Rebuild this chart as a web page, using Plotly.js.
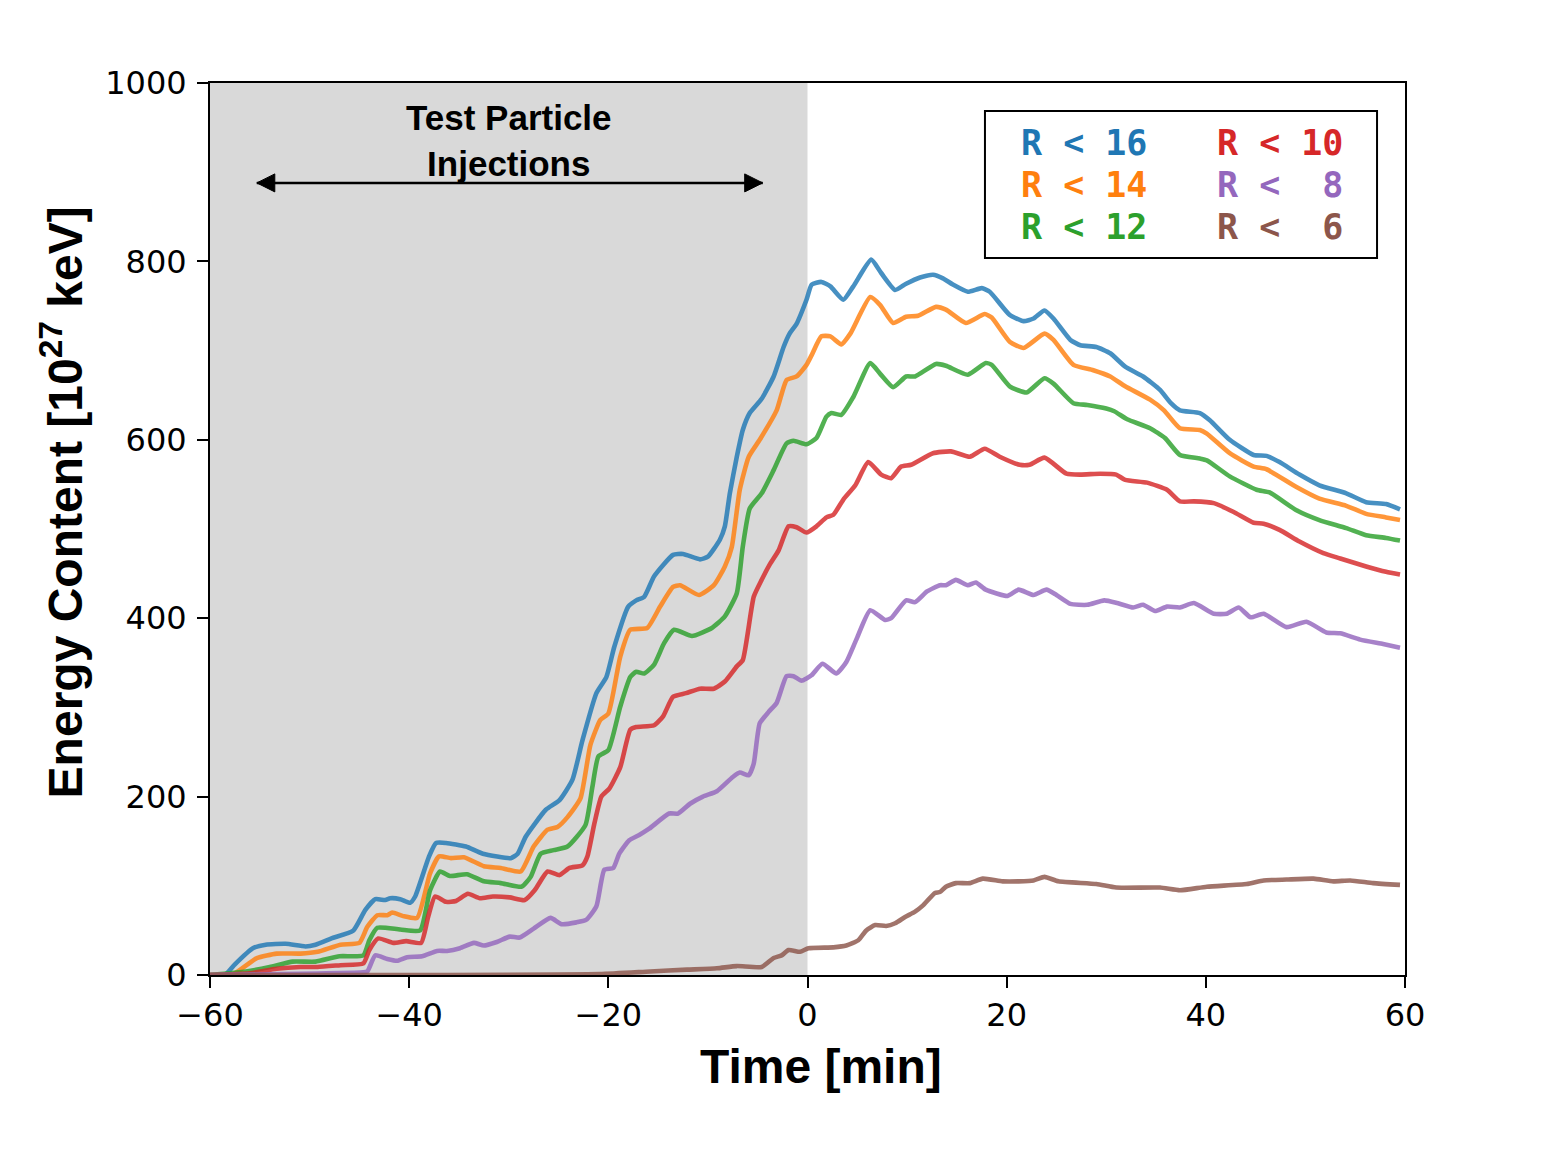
<!DOCTYPE html>
<html>
<head>
<meta charset="utf-8">
<script src="https://cdn.plot.ly/plotly-3.0.1.min.js"></script>
<style>html,body{margin:0;padding:0;background:#fff;}</style>
</head>
<body>
<div id="chart" style="width:1550px;height:1160px;"></div>
<script>
// ---- data ----
const seriesNames = ["R < 16", "R < 14", "R < 12", "R < 10", "R <  8", "R <  6"];
const seriesColors = ["#1f77b4", "#ff7f0e", "#2ca02c", "#d62728", "#9467bd", "#8c564b"];

const tR16 = [-60,-58.5,-57.5,-55.7,-54.4,-52.4,-50.4,-49.4,-47.8,-45.6,-44.4,-43.4,-42.4,-41.9,-40.9,-39.9,-39.4,-38.0,-37.3,-36.3,-34.3,-32.6,-29.8,-29.1,-28.3,-26.3,-24.9,-23.6,-22.6,-21.2,-20.2,-19.4,-18.0,-17.2,-16.4,-15.4,-13.5,-12.5,-10.8,-10.0,-8.8,-8.3,-7.8,-7.1,-6.5,-5.8,-4.6,-3.4,-2.4,-1.8,-1.1,-0.1,0.42,1.4,2.3,3.6,4.6,6.4,7.4,8.8,9.9,11.3,12.6,13.6,14.6,16.1,17.5,18.3,20.3,21.7,22.7,23.8,24.7,26.4,27.4,29.0,30.4,31.9,33.7,35.4,36.5,37.4,39.4,40.4,42.4,44.8,46.1,47.4,49.4,51.4,54.1,56.1,58.1,59.5];
const vR16 = [0,0,12,30,34,35,32,34,41,50,73,85,84,86,85,81,88,133,148,148,144,136,131,136,155,185,196,219,263,316,334,368,413,420,424,447,471,472,466,469,488,503,540,581,611,630,646,671,704,719,730,757,774,777,772,757,772,802,787,768,775,782,785,781,774,766,770,766,740,733,736,745,736,712,706,704,697,682,671,656,641,633,630,622,600,583,582,575,561,549,540,530,528,522];

const tR14 = [-60,-57.8,-55.3,-53.3,-50.9,-49.2,-46.9,-45.0,-44.2,-43.2,-42.2,-41.7,-40.6,-39.2,-37.9,-37.0,-35.8,-34.5,-32.5,-30.8,-28.8,-27.5,-26.1,-25.1,-24.1,-22.8,-21.8,-20.8,-20.0,-18.8,-17.8,-16.1,-14.8,-13.5,-12.8,-10.9,-9.4,-8.3,-7.6,-6.8,-5.9,-4.8,-3.1,-2.1,-1.1,-0.1,0.42,1.4,2.3,3.4,4.3,6.3,7.3,8.6,9.9,11.1,12.9,13.9,15.9,17.8,18.5,20.3,21.7,23.8,24.7,26.7,28.7,30.4,31.9,34.4,35.8,37.4,39.4,40.1,42.4,44.8,46.1,49.1,51.4,54.1,56.1,58.1,59.5];
const vR14 = [0,0,19,24,24,26,34,36,54,67,67,70,66,64,114,133,131,132,122,120,116,144,163,166,177,198,258,286,293,357,387,389,413,435,437,426,437,458,480,544,581,600,633,667,671,684,695,716,716,707,719,760,751,731,738,739,749,746,731,741,737,710,703,719,712,684,678,671,660,645,633,613,611,607,585,570,567,547,534,526,517,513,510];

const tR12 = [-60,-56.4,-54.0,-51.7,-49.4,-47.0,-44.6,-44.0,-43.2,-40.9,-38.9,-37.9,-36.9,-35.9,-34.2,-32.5,-30.8,-28.7,-27.8,-26.8,-25.5,-24.1,-22.3,-21.6,-21.0,-20.0,-18.8,-17.8,-17.2,-16.4,-15.4,-14.4,-13.4,-11.6,-9.6,-8.3,-7.1,-6.5,-5.8,-4.6,-3.4,-2.1,-1.4,-0.1,0.9,1.9,2.4,3.4,4.6,6.3,7.3,8.6,9.9,10.8,12.9,13.9,16.1,17.9,18.5,20.3,22.0,23.8,24.7,26.7,28.1,30.0,30.8,32.1,34.4,35.9,37.4,39.4,40.1,42.4,45.1,46.4,49.1,51.4,54.1,56.1,58.1,59.5];
const vR12 = [0,4,9,15,15,21,22,39,53,51,50,95,116,111,113,105,103,99,110,136,140,144,168,211,245,252,301,334,340,338,348,372,387,380,389,402,428,480,523,540,566,596,599,595,602,626,630,628,648,686,674,659,671,671,685,683,673,686,684,660,653,669,663,641,639,635,632,623,613,602,583,579,577,559,544,541,521,510,501,493,490,487];

const tR10 = [-60,-56,-53.3,-50.9,-49.2,-46.9,-44.6,-44.0,-43.1,-41.6,-40.3,-38.8,-38.1,-37.4,-36.3,-35.3,-34.1,-32.9,-31.6,-29.9,-28.4,-27.4,-26.1,-24.9,-23.9,-22.6,-22.1,-21.4,-20.7,-19.9,-18.8,-17.8,-17.2,-15.4,-14.5,-13.5,-12.2,-10.8,-9.4,-8.3,-7.1,-6.5,-5.4,-4.6,-3.8,-2.9,-1.9,-1.1,-0.1,0.9,1.9,2.6,3.6,4.8,6.1,7.4,8.4,9.4,10.4,12.6,14.4,16.3,17.8,19.3,21.3,22.3,23.8,26.0,27.4,29.4,31.0,31.9,34.1,36.1,37.4,38.8,40.8,42.8,44.8,45.8,47.4,49.4,51.8,53.5,56.1,58.1,59.5];
const vR10 = [0,2,7,9,9,11,13,28,41,36,38,36,65,88,82,83,91,86,88,87,84,95,116,112,120,123,133,170,200,209,233,275,278,280,290,312,316,321,321,329,346,353,424,443,460,476,503,502,496,503,513,516,533,549,575,561,557,570,572,585,587,581,590,581,572,572,580,562,561,562,561,555,552,544,531,531,529,519,507,506,499,486,473,467,458,452,449];

const tR8 = [-60,-44.6,-44.2,-43.4,-42.2,-41.2,-40.2,-38.7,-37.2,-36.2,-34.9,-33.5,-32.5,-31.2,-29.9,-28.9,-27.5,-25.8,-24.7,-23.2,-22.2,-21.2,-20.4,-19.5,-18.9,-17.9,-16.9,-15.9,-13.9,-13.0,-11.8,-10.5,-9.1,-7.5,-6.8,-5.9,-5.4,-4.8,-3.9,-3.1,-2.1,-1.4,-0.6,0.4,1.5,2.9,3.9,4.9,6.3,7.8,8.4,9.9,10.8,12.0,13.3,13.9,14.9,16.1,16.9,17.9,20.1,21.2,22.7,24.0,25.0,26.4,28.1,29.8,31.1,32.7,33.7,34.9,36.1,37.4,38.8,40.8,42.1,43.3,44.5,45.8,48.1,50.1,52.1,53.5,55.5,57.8,59.5];
const vR8 = [0,3,4,22,18,16,20,21,27,27,30,36,33,37,43,42,52,64,57,59,62,77,118,120,136,151,157,164,181,181,192,200,206,222,227,224,237,282,295,305,335,335,330,336,349,338,351,376,409,398,400,420,418,430,437,437,443,437,440,432,425,432,426,432,426,416,415,420,417,412,415,408,413,412,417,405,405,412,401,405,390,396,384,383,376,371,367];

const tR6 = [-60,-20.9,-15.8,-12.1,-9.1,-7.1,-4.6,-3.4,-2.6,-1.9,-0.75,0.1,2.6,3.9,5.1,5.9,6.8,7.9,8.8,9.8,10.8,11.6,12.8,13.3,13.9,14.9,16.3,17.6,19.6,21.2,22.7,23.8,25.2,29.0,31.0,35.4,37.4,40.1,44.1,45.8,48.1,50.8,52.8,54.5,56.8,59.5];
const vR6 = [0,1,4,6,7.5,10,9,19,22,28,26,30,31,33,39,50,56,55,58,65,71,78,92,93,99,103,103,108,105,105,106,110,105,102,98,98,95,99,102,106,107,108,105,106,103,101];

const xTicks = [-60, -40, -20, 0, 20, 40, 60];
const yTicks = [0, 200, 400, 600, 800, 1000];
const injectionWindow = [-60, 0];
const arrowSpan = [-55.3, -4.5];
const arrowLevel = 888;

// ---- traces ----
const times = [tR16, tR14, tR12, tR10, tR8, tR6];
const values = [vR16, vR14, vR12, vR10, vR8, vR6];
const traces = times.map((t, i) => ({
  x: t, y: values[i], type: 'scatter', mode: 'lines',
  name: seriesNames[i],
  line: {color: seriesColors[i], width: 4.6, shape: 'spline', smoothing: 0.5},
  opacity: 0.82,
  showlegend: false,
  hoverinfo: 'x+y+name'
}));

// ---- legend text (coloured labels, no line samples) ----
const legendCols = [0.677, 0.841];
const legendRows = [0.933, 0.886, 0.839];
const legendAnn = seriesNames.map((n, i) => ({
  xref: 'paper', yref: 'paper',
  x: legendCols[Math.floor(i / 3)], y: legendRows[i % 3],
  xanchor: 'left', yanchor: 'middle',
  text: '<b>' + n.replace(/ /g, '\u00a0') + '</b>',
  showarrow: false,
  font: {family: 'DejaVu Sans Mono', size: 35, color: seriesColors[i]}
}));

// double-headed arrow: a line plus two pixel-sized triangular heads
const headLen = 18, headHalf = 9;
const arrowShapes = [
  {type: 'line', xref: 'x', yref: 'y', x0: arrowSpan[0], x1: arrowSpan[1], y0: arrowLevel, y1: arrowLevel,
   line: {color: '#000', width: 2.5}, layer: 'above'},
  {type: 'path', xref: 'x', yref: 'y', xsizemode: 'pixel', ysizemode: 'pixel',
   xanchor: arrowSpan[0], yanchor: arrowLevel,
   path: `M0,0 L${headLen},${headHalf} L${headLen},${-headHalf} Z`,
   fillcolor: '#000', line: {color: '#000', width: 1}, layer: 'above'},
  {type: 'path', xref: 'x', yref: 'y', xsizemode: 'pixel', ysizemode: 'pixel',
   xanchor: arrowSpan[1], yanchor: arrowLevel,
   path: `M0,0 L${-headLen},${headHalf} L${-headLen},${-headHalf} Z`,
   fillcolor: '#000', line: {color: '#000', width: 1}, layer: 'above'}
];

const layout = {
  width: 1550, height: 1160,
  margin: {l: 210, r: 145, t: 83, b: 185},
  paper_bgcolor: '#ffffff', plot_bgcolor: '#ffffff',
  showlegend: false,
  xaxis: {
    range: [-60, 60], tickvals: xTicks, ticktext: xTicks.map(v => v < 0 ? '\u2212' + Math.abs(v) : String(v)),
    ticks: 'outside', ticklen: 11, tickwidth: 2, tickcolor: '#000',
    showline: true, linewidth: 2, linecolor: '#000', mirror: true,
    showgrid: false, zeroline: false,
    tickfont: {family: 'DejaVu Sans', size: 32, color: '#000'},
    title: {text: '<b>\u00a0\u00a0Time [min]</b>', font: {family: 'Liberation Sans', size: 48, color: '#000'}, standoff: 16}
  },
  yaxis: {
    range: [0, 1000], tickvals: yTicks,
    ticks: 'outside', ticklen: 11, tickwidth: 2, tickcolor: '#000',
    showline: true, linewidth: 2, linecolor: '#000', mirror: true,
    showgrid: false, zeroline: false, ticklabelstandoff: 4,
    tickfont: {family: 'DejaVu Sans', size: 32, color: '#000'},
    title: {text: '<b>\u00a0\u00a0\u00a0\u00a0Energy Content [10<sup>27</sup> keV]</b>', font: {family: 'Liberation Sans', size: 48, color: '#000'}, standoff: 7}
  },
  shapes: [
    {type: 'rect', xref: 'x', yref: 'paper', x0: injectionWindow[0], x1: injectionWindow[1], y0: 0, y1: 1,
     fillcolor: '#d9d9d9', line: {width: 0}, layer: 'below'},
    {type: 'rect', xref: 'paper', yref: 'paper', x0: 0.6485, x1: 0.9766, y0: 0.8038, y1: 0.9686,
     fillcolor: '#ffffff', line: {color: '#000', width: 2}, layer: 'above'}
  ].concat(arrowShapes),
  annotations: [
    {xref: 'x', yref: 'paper', x: -30, y: 0.936, xanchor: 'center', yanchor: 'middle',
     text: '<b>Test Particle<br>Injections</b>', showarrow: false,
     font: {family: 'Liberation Sans', size: 35, color: '#000'}}
  ].concat(legendAnn)
};

Plotly.newPlot('chart', traces, layout, {displayModeBar: false, staticPlot: true});
</script>
</body>
</html>
